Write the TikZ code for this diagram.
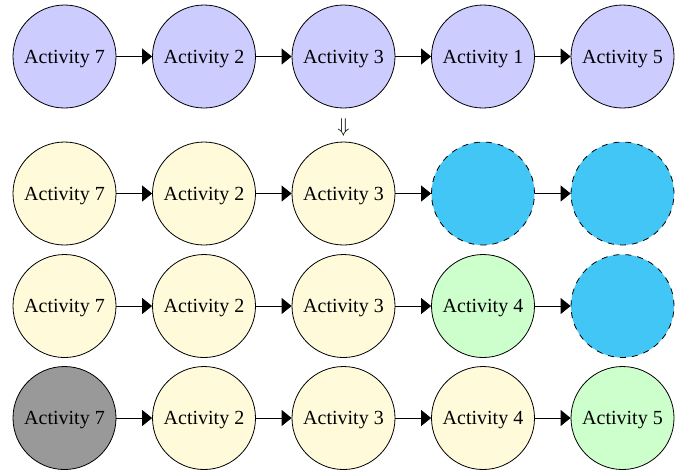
\documentclass[tikz,border=0pt]{standalone}
\usepackage{fontspec}
\setmainfont{Liberation Serif}
\usetikzlibrary{arrows.meta}

\definecolor{plannedblue}{RGB}{204,204,255}
\definecolor{doneyellow}{RGB}{255,250,218}
\definecolor{nextgreen}{RGB}{204,255,204}
\definecolor{openblue}{RGB}{66,198,245}
\def\colsep{69.75}

\begin{document}
\begin{tikzpicture}[x=1pt, y=1pt, >={Triangle[length=5pt,width=8pt]}]
    \tikzstyle{activity}=[circle,draw=black,minimum size=51.5pt,inner sep=0pt,text depth=0pt]
    \tikzstyle{planned}=[activity,fill=plannedblue]
    \tikzstyle{done}=[activity,fill=doneyellow]
    \tikzstyle{next}=[activity,fill=nextgreen]
    \tikzstyle{dropped}=[activity,fill=black!40]
    \tikzstyle{open}=[activity,dashed,fill=openblue]

    \useasboundingbox (0,0) rectangle (347,-236.5);

    % Draw the planned sequence
    \foreach \name / \act in {1/7,2/2,3/3,4/1,5/5}
        \node[planned] (P-\name) at ({32.25+\colsep*(\name-1)},-28.25) {Activity \act};

    % Replanning mark
    \node (turn) at (171.75,-63.5) {$\Downarrow$};

    % Draw the first replanned sequence
    \foreach \name / \kind / \txt in {1/done/Activity 7,2/done/Activity 2,3/done/Activity 3,4/open/,5/open/}
        \node[\kind] (A-\name) at ({32.25+\colsep*(\name-1)},-96.75) {\txt};

    % Draw the second replanned sequence
    \foreach \name / \kind / \txt in {1/done/Activity 7,2/done/Activity 2,3/done/Activity 3,4/next/Activity 4,5/open/}
        \node[\kind] (B-\name) at ({32.25+\colsep*(\name-1)},-153) {\txt};

    % Draw the final sequence
    \foreach \name / \kind / \txt in {1/dropped/Activity 7,2/done/Activity 2,3/done/Activity 3,4/done/Activity 4,5/next/Activity 5}
        \node[\kind] (C-\name) at ({32.25+\colsep*(\name-1)},-209) {\txt};

    % Connect each activity with the following one
    \foreach \row in {P,A,B,C}
        \foreach \source / \dest in {1/2,2/3,3/4,4/5}
            \draw[->] (\row-\source) -- (\row-\dest);
\end{tikzpicture}
\end{document}
